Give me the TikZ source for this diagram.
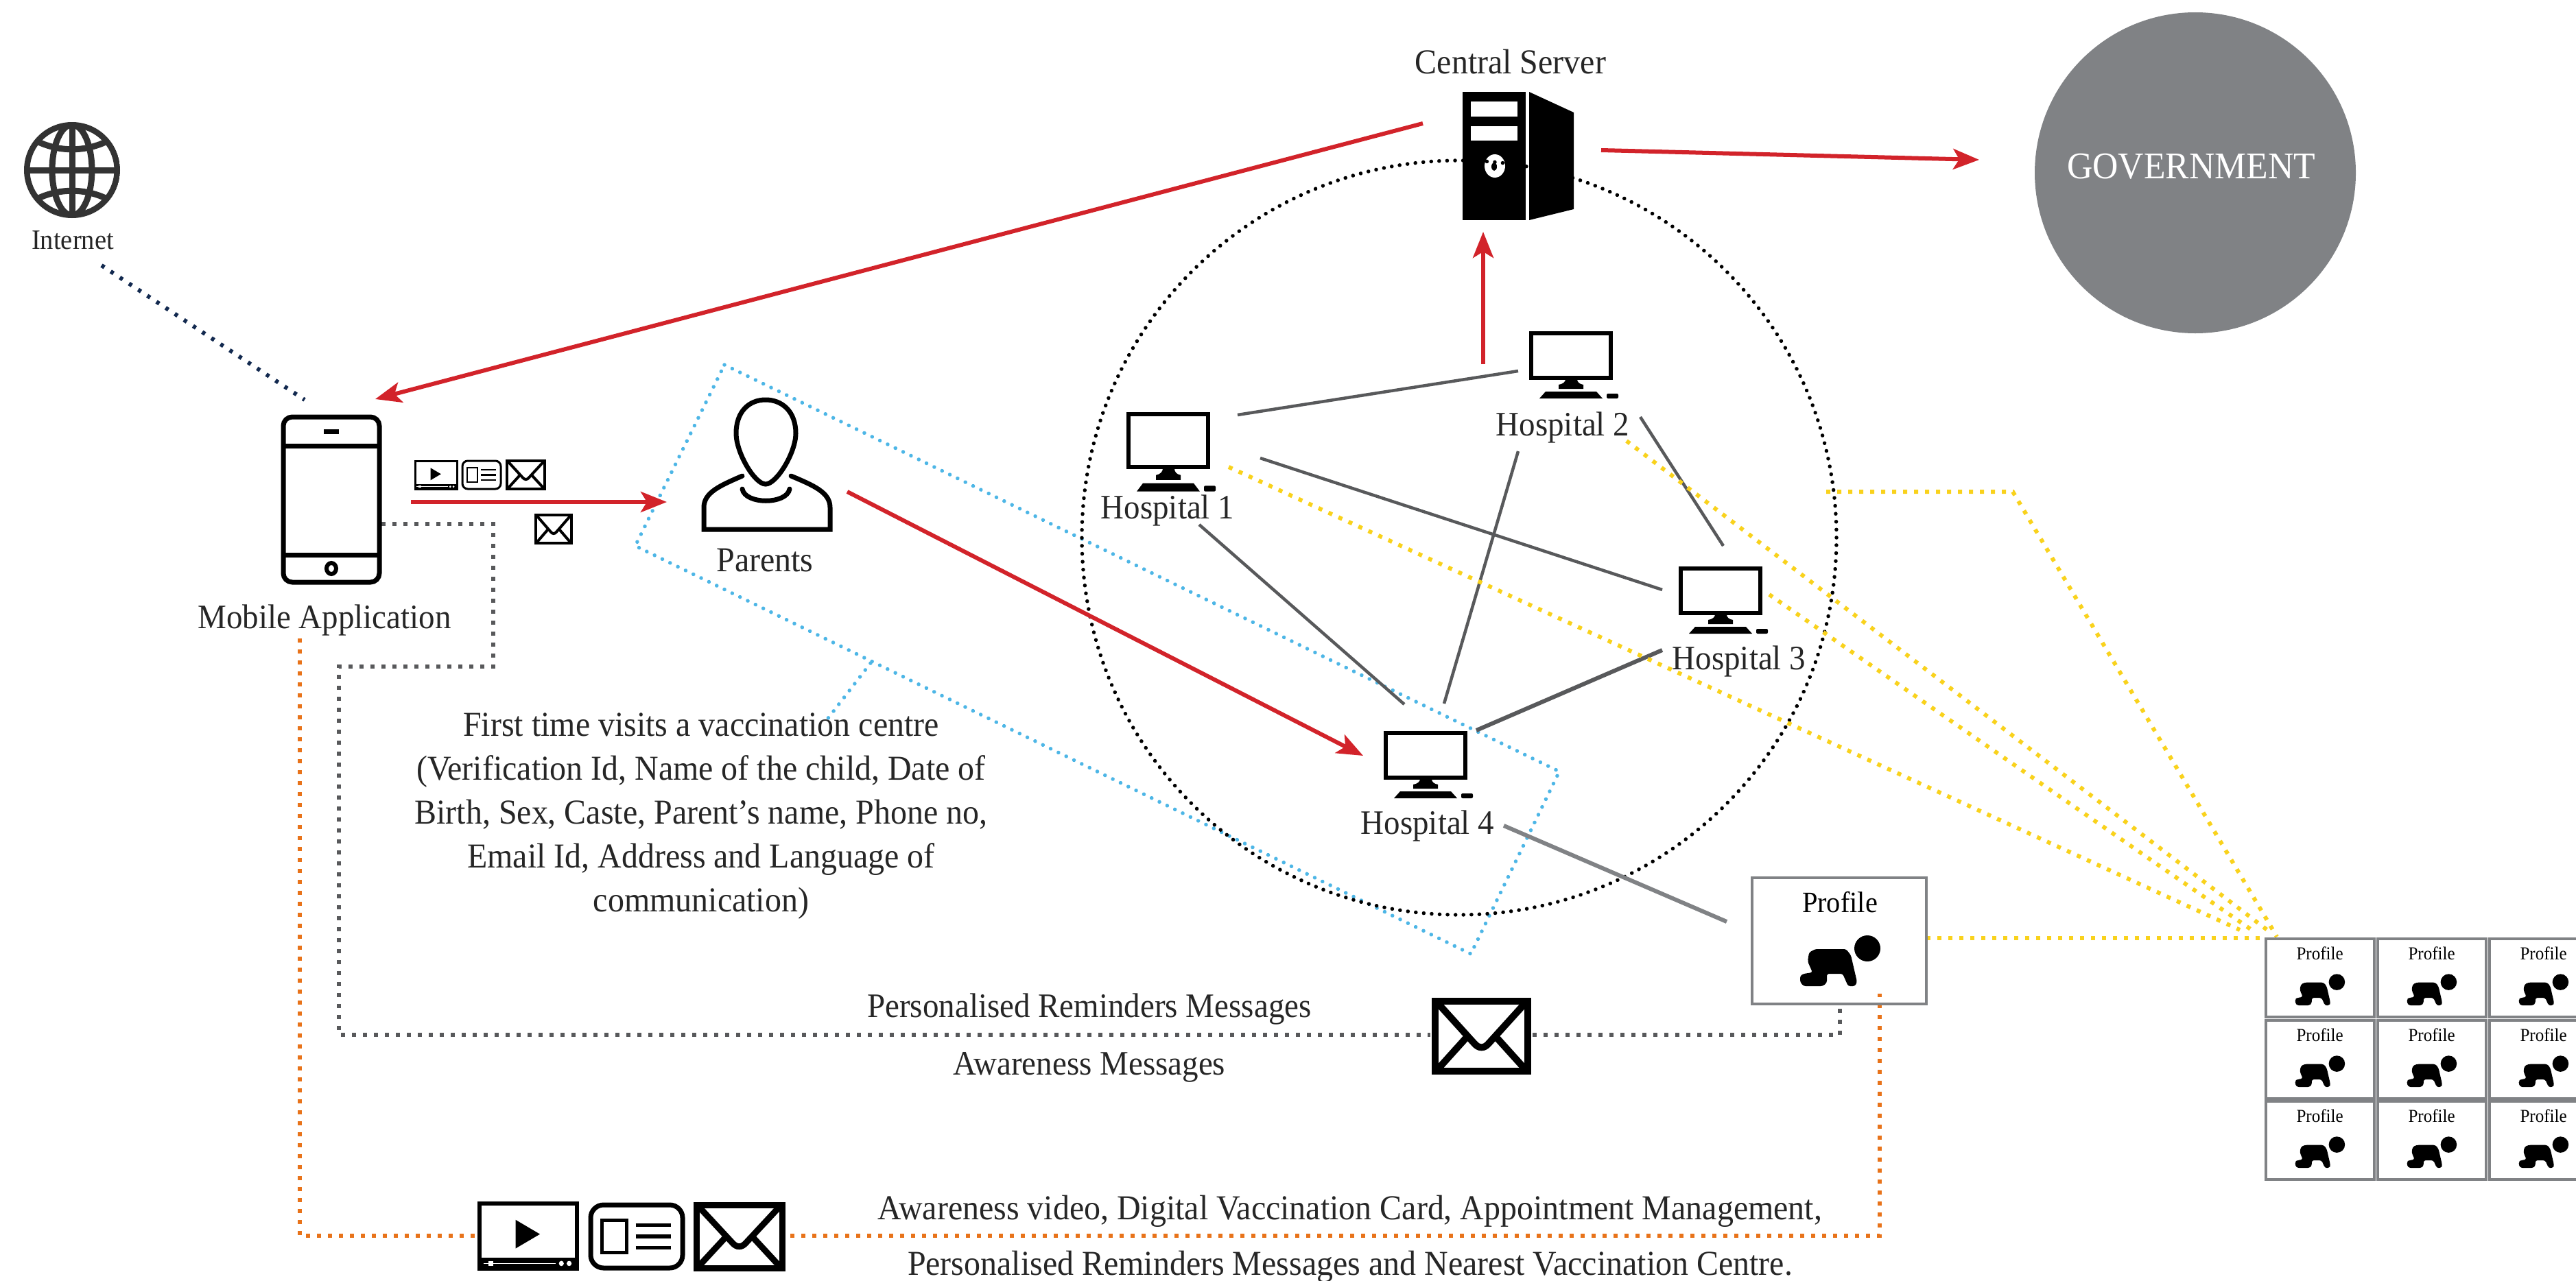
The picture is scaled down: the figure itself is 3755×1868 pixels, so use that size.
\documentclass[tikz,border=0pt]{standalone}
\usepackage{fontspec}
\setmainfont[FakeStretch=0.94]{Liberation Serif}
\usetikzlibrary{arrows.meta}
\definecolor{redline}{HTML}{D2232A}
\definecolor{greyline}{HTML}{58595B}
\definecolor{greybox}{HTML}{808285}
\definecolor{yellowdot}{HTML}{F9D21C}
\definecolor{bluedot}{HTML}{4DB6E6}
\definecolor{orangedot}{HTML}{E8731A}
\definecolor{navydot}{HTML}{12294F}
\tikzset{
 redarrow/.style={draw=redline,line width=6pt,-{Stealth[length=38pt,width=30pt,inset=9pt]}},
 link/.style={draw=greyline,line width=4.5pt},
 yellowline/.style={draw=yellowdot,line width=6pt,dash pattern=on 6pt off 10pt},
 greydots/.style={draw=greyline,line width=6pt,dash pattern=on 6pt off 10pt},
 orangedots/.style={draw=orangedot,line width=6pt,dash pattern=on 6pt off 10pt},
 bluedots/.style={draw=bluedot,line width=5.5pt,line cap=round,dash pattern=on 0.1pt off 12.5pt},
 navydots/.style={draw=navydot,line width=6pt,dash pattern=on 5pt off 11pt},
 ringdots/.style={draw=black,line width=5.5pt,line cap=round,dash pattern=on 0.1pt off 11.5pt},
 label/.style={font=\fontsize{51}{64}\selectfont,text=black!85,inner sep=0pt,align=center},
 lowlabel/.style={label,yshift=-4pt},
}
% unit icons: drawn in a unit square, placed by left, top, width, height
\newcommand{\mailicon}[5]{\begin{scope}[shift={(#1,#2)},x={(#3pt,0)},y={(0,-#4pt)}]
 \draw[line width=#5pt,fill=white] (0,0) rectangle (1,1);
 \draw[line width=#5pt] (0.03,0.03) -- (0.42,0.6) .. controls (0.47,0.68) and (0.53,0.68) .. (0.58,0.6) -- (0.97,0.03);
 \draw[line width=#5pt] (0.03,0.97) -- (0.35,0.5) (0.97,0.97) -- (0.65,0.5);
\end{scope}}
\newcommand{\videoicon}[5]{\begin{scope}[shift={(#1,#2)},x={(#3pt,0)},y={(0,-#4pt)}]
 \draw[line width=#5pt] (0,0) rectangle (1,1);
 \fill (0,0.83) rectangle (1,1);
 \fill (0.37,0.25) -- (0.62,0.47) -- (0.37,0.69) -- cycle;
 \draw[white,line width=0.3*#5pt] (0.04,0.92) -- (0.78,0.92);
 \fill[white] (0.09,0.88) rectangle (0.14,0.96);
 \fill[white] (0.84,0.92) ellipse (0.025 and 0.04) (0.92,0.92) ellipse (0.025 and 0.04);
\end{scope}}
\newcommand{\cardicon}[5]{\begin{scope}[shift={(#1,#2)},x={(#3pt,0)},y={(0,-#4pt)}]
 \draw[line width=#5pt,rounded corners=0.14*#3pt] (0,0) rectangle (1,1);
 \draw[line width=0.7*#5pt] (0.12,0.24) rectangle (0.39,0.76);
 \draw[line width=0.8*#5pt] (0.49,0.32) -- (0.87,0.32) (0.49,0.5) -- (0.87,0.5) (0.49,0.68) -- (0.87,0.68);
\end{scope}}
% monitor: left, top, vertical stretch
\newcommand{\monitoricon}[3]{\begin{scope}[shift={(#1,#2)},yscale=#3]
 \draw[line width=6pt,fill=white] (3,3) rectangle (119,68);
 \fill (53,70) -- (70,70) .. controls (70,74) and (73,77) .. (79,78) -- (79,84) -- (43,84) -- (43,78) .. controls (49,77) and (53,74) .. (53,70) -- cycle;
 \fill (15,98) -- (24,88) -- (98,88) -- (107,98) -- cycle;
 \fill[rounded corners=2pt] (113,91) rectangle (130,98);
\end{scope}}
% crawling baby inside a profile card: left, top, scale, border
\newcommand{\profilecard}[4]{\begin{scope}[shift={(#1,#2)},scale=#3]
 \fill (170,105) circle (19pt);
 \fill[rounded corners=3pt] (94,106) -- (139,106) -- (146,115) -- (155,154) -- (152,160) -- (142,160) -- (134,142) -- (111,142) -- (111,155) -- (105,160) -- (77,160) -- (72,154) -- (72,145) -- (77,142) -- (90,140) -- (83,124) -- (85,111) -- cycle;
\end{scope}
\pgfmathsetmacro{\cardfont}{#3*43}
\node[draw=greybox,line width=#4pt,minimum width=#3*254pt,minimum height=#3*184pt,anchor=north west,inner sep=0pt] at (#1,#2) {};
\node[inner sep=0pt,font=\fontsize{\cardfont}{\cardfont}\selectfont] at (#1+#3*130,#2+#3*38) {Profile};}
\begin{document}
\begin{tikzpicture}[x=1pt,y=-1pt]
\useasboundingbox (0,0) rectangle (3755,1868);
\clip (0,0) rectangle (3755,1868);

% ---- fixed points
\coordinate (srvL) at (2074,180);
\coordinate (srvR) at (2334,219);
\coordinate (srvB) at (2162,338);
\coordinate (h2up) at (2162,531);
\coordinate (govL) at (2885,233);
\coordinate (phoneT) at (547,582);
\coordinate (phoneR) at (599,732);
\coordinate (parL) at (972,732);
\coordinate (parR) at (1235,717);
\coordinate (h4arr) at (1987,1102);
\coordinate (netB) at (148,387);
\coordinate (phoneN) at (444,583);
\coordinate (h1a) at (1804,605);
\coordinate (h2a) at (2213,541);
\coordinate (h1b) at (1837,668);
\coordinate (h3a) at (2423,860);
\coordinate (h2b) at (2391,608);
\coordinate (h3b) at (2512,796);
\coordinate (h1c) at (1748,765);
\coordinate (h4a) at (2047,1027);
\coordinate (h2c) at (2213,658);
\coordinate (h4b) at (2105,1026);
\coordinate (h3c) at (2423,948);
\coordinate (h4c) at (2152,1065);
\coordinate (h4d) at (2192,1204);
\coordinate (profL) at (2517,1344);
\coordinate (y1) at (1791,681);
\coordinate (y1e) at (3265,1356);
\coordinate (y2) at (2371,643);
\coordinate (y2e) at (3310,1360);
\coordinate (y3) at (2579,867);
\coordinate (y3e) at (3285,1358);
\coordinate (y4) at (2662,717);
\coordinate (y4m) at (2934,717);
\coordinate (y4e) at (3319,1366);
\coordinate (y5) at (2808,1368);
\coordinate (y5e) at (3299,1368);

% ---- blue parallelogram
\coordinate (qa) at (1056,532);
\coordinate (qb) at (2273,1125);
\coordinate (qc) at (2144,1391);
\coordinate (qd) at (926,796);
\coordinate (qm) at (1269,967);
\coordinate (qt) at (1205,1050);
\draw[bluedots] (qa) -- (qb) -- (qc) -- (qd) -- cycle;
\draw[bluedots] (qm) -- (qt);

% ---- server
\fill (2132,134) rectangle (2224,321);
\fill (2229,134) -- (2294,164) -- (2294,305) -- (2229,321) -- cycle;
\fill[white] (2144,148) rectangle (2212,170);
\fill[white] (2144,184) rectangle (2212,205);
\fill[white] (2179,242) ellipse (15pt and 17pt);
\fill (2178,243) ellipse (4pt and 6pt);

% ---- ring
\coordinate (ringC) at (2127,784);
\draw[ringdots] (ringC) circle (550pt);

% ---- links
\draw[link] (h1a) -- (h2a);
\draw[link] (h1b) -- (h3a);
\draw[link] (h2b) -- (h3b);
\draw[link] (h1c) -- (h4a);
\draw[link] (h2c) -- (h4b);
\draw[link,line width=6pt] (h3c) -- (h4c);
\draw[draw=greybox,line width=6pt] (h4d) -- (profL);

% ---- yellow
\draw[yellowline] (y1) -- (y1e);
\draw[yellowline] (y2) -- (y2e);
\draw[yellowline] (y3) -- (y3e);
\draw[yellowline] (y4) -- (y4m) -- (y4e);
\draw[yellowline] (y5) -- (y5e);

% ---- red arrows
\draw[redarrow] (srvL) -- (phoneT);
\draw[redarrow] (srvR) -- (govL);
\draw[redarrow] (h2up) -- (srvB);
\draw[redarrow] (phoneR) -- (parL);
\draw[redarrow] (parR) -- (h4arr);

% ---- navy
\draw[navydots] (netB) -- (phoneN);

% ---- messaging routes
\coordinate (pa) at (556,764);
\coordinate (pb) at (719,764);
\coordinate (pc) at (719,972);
\coordinate (pd) at (494,972);
\coordinate (pe) at (494,1509);
\coordinate (pf) at (2085,1509);
\coordinate (pg) at (2234,1509);
\coordinate (ph) at (2682,1509);
\coordinate (pi) at (2682,1462);
\draw[greydots] (pa) -- (pb) -- (pc) -- (pd) -- (pe) -- (pf);
\draw[greydots] (pg) -- (ph) -- (pi);
\coordinate (oa) at (437,931);
\coordinate (ob) at (437,1802);
\coordinate (oc) at (693,1802);
\coordinate (od) at (1152,1802);
\coordinate (oe) at (2740,1802);
\coordinate (of) at (2740,1449);
\draw[orangedots] (oa) -- (ob) -- (oc);
\draw[orangedots] (od) -- (oe) -- (of);

% ---- globe
\begin{scope}
 \clip (105,248) circle (70pt);
 \draw[line width=9pt,draw=black!80] (105,248) circle (66pt);
 \draw[line width=9pt,draw=black!80] (105,248) ellipse (29pt and 66pt);
 \draw[line width=9pt,draw=black!80] (105,180) -- (105,316) (37,248) -- (173,248);
 \draw[line width=9pt,draw=black!80] (52,205) .. controls (85,222) and (125,222) .. (158,205);
 \draw[line width=9pt,draw=black!80] (52,291) .. controls (85,274) and (125,274) .. (158,291);
\end{scope}
\node[label,font=\fontsize{41}{44}\selectfont] (internet) at (106,350) {Internet};

% ---- phone
\draw[line width=7pt,rounded corners=13pt] (413,608) rectangle (553,849);
\draw[line width=7pt] (413,650) -- (553,650) (413,809) -- (553,809);
\fill (472,626) rectangle (494,633);
\draw[line width=6pt] (483,829) ellipse (7pt and 8pt);
\node[lowlabel,font=\fontsize{50}{64}\selectfont] (mobile) at (473,900) {Mobile Application};

% ---- small messages
\videoicon{605}{672}{61}{41}{3}
\cardicon{674}{672}{56}{41}{3}
\mailicon{739}{672}{55}{41}{4}
\mailicon{781}{751}{52}{41}{4}

% ---- parent
\draw[line width=7pt] (1116,583) .. controls (1092,583) and (1073,600) .. (1073,632) .. controls (1073,660) and (1100,706) .. (1116,706) .. controls (1132,706) and (1160,660) .. (1160,632) .. controls (1160,600) and (1140,583) .. (1116,583) -- cycle;
\draw[line width=7pt,line cap=round] (1082,694) .. controls (1050,708) and (1026,718) .. (1026,740) -- (1026,772) -- (1210,772) -- (1210,740) .. controls (1210,718) and (1186,708) .. (1153,694);
\draw[line width=7pt,line cap=round] (1082,713) .. controls (1086,736) and (1147,736) .. (1151,713);
\node[label] (parents) at (1115,817) {Parents};

% ---- central server and government
\node[label] (server) at (2202,90) {Central Server};
\fill[greybox] (3200,252) circle (234pt);
\node[label,text=white,font=\fontsize{55}{60}\selectfont] (gov) at (3194,243) {GOVERNMENT};

% ---- hospitals
\monitoricon{2229}{483}{1}
\monitoricon{1642}{600}{1.19}
\monitoricon{2447}{826}{1}
\monitoricon{2017}{1066}{1}
\node[lowlabel,font=\fontsize{50}{64}\selectfont] (h1) at (1702,740) {Hospital 1};
\node[lowlabel,font=\fontsize{50}{64}\selectfont] (h2) at (2278,619) {Hospital 2};
\node[lowlabel,font=\fontsize{50}{64}\selectfont] (h3) at (2535,960) {Hospital 3};
\node[lowlabel,font=\fontsize{50}{64}\selectfont] (h4) at (2081,1200) {Hospital 4};

% ---- paragraph
\node[lowlabel] (para) at (1022,1186) {First time visits a vaccination centre\\(Verification Id, Name of the child, Date of\\Birth, Sex, Caste, Parent’s name, Phone no,\\Email Id, Address and Language of\\communication)};

% ---- profile cards
\profilecard{2552}{1278}{1}{4}
\foreach \cx in {3301,3464,3627} \foreach \cy in {1367,1486,1604} {\profilecard{\cx}{\cy}{0.62}{4}}

% ---- message icons
\mailicon{2092}{1460}{135}{102}{10}
\node[lowlabel,font=\fontsize{50}{64}\selectfont] (remind) at (1588,1468) {Personalised Reminders Messages};
\node[lowlabel,font=\fontsize{50}{64}\selectfont] (aware) at (1588,1552) {Awareness Messages};
\videoicon{699}{1755}{142}{95}{6}
\cardicon{861}{1757}{134}{92}{7}
\mailicon{1015}{1757}{125}{92}{9}
\node[lowlabel] (bottom1) at (1968,1762) {Awareness video, Digital Vaccination Card, Appointment Management,};
\node[lowlabel] (bottom2) at (1968,1843) {Personalised Reminders Messages and Nearest Vaccination Centre.};
\end{tikzpicture}
\end{document}
